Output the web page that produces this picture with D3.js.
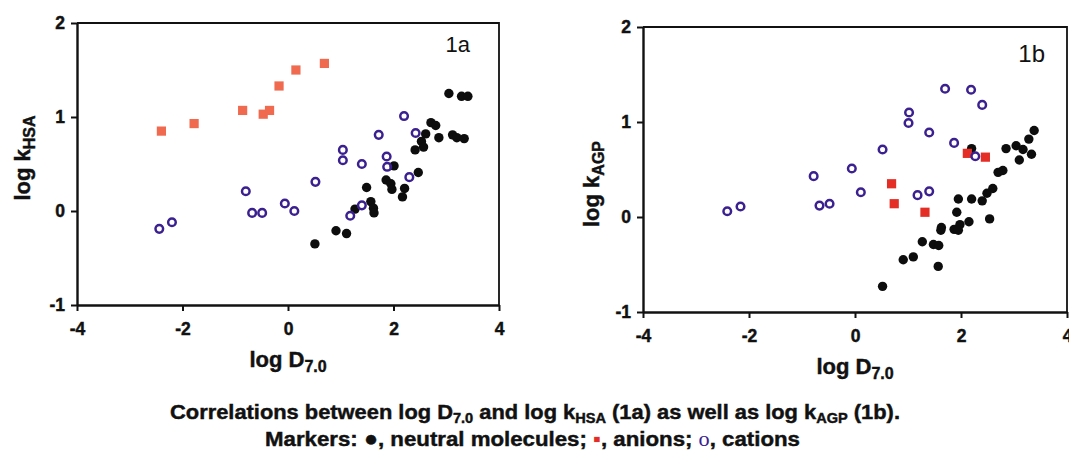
<!DOCTYPE html>
<html>
<head>
<meta charset="utf-8">
<script src="https://cdn.jsdelivr.net/npm/d3@7"></script>
<style>
  html, body { margin: 0; padding: 0; background: #fff; }
  svg { display: block; font-family: "Liberation Sans", Arial, Helvetica, sans-serif; }
</style>
</head>
<body>
<svg id="chart" width="1069" height="455"></svg>
<script>
// ---------- data ----------
const xTicks = [-4, -2, 0, 2, 4];
const yTicks = [-1, 0, 1, 2];

// Panel 1a: log D7.0 vs log kHSA
const hsaNeutral = [
  [3.05, 1.25], [3.29, 1.22], [3.41, 1.22], [2.71, 0.94], [2.80, 0.91],
  [2.61, 0.82], [2.86, 0.78], [3.12, 0.81], [3.20, 0.78], [3.34, 0.77],
  [2.53, 0.74], [2.57, 0.68], [2.41, 0.65], [2.01, 0.48], [2.47, 0.41],
  [1.86, 0.33], [1.95, 0.29], [1.97, 0.23], [2.21, 0.24], [2.17, 0.15],
  [1.49, 0.25], [1.57, 0.10], [1.62, 0.03], [1.63, -0.02], [1.27, 0.02],
  [0.91, -0.21], [1.11, -0.24], [0.51, -0.35]
];
const hsaAnion = [
  [-2.40, 0.85], [-1.78, 0.93], [-0.86, 1.07], [-0.47, 1.03],
  [-0.35, 1.07], [-0.17, 1.33], [0.15, 1.50], [0.69, 1.57]
];
const hsaCation = [
  [-2.44, -0.19], [-2.20, -0.12], [-0.80, 0.21], [-0.68, -0.02], [-0.49, -0.02],
  [-0.06, 0.08], [0.12, 0.00], [0.52, 0.31], [1.04, 0.65], [1.04, 0.54],
  [1.18, -0.05], [1.40, 0.06], [1.40, 0.50], [1.72, 0.81], [1.87, 0.58],
  [1.88, 0.47], [2.20, 1.01], [2.30, 0.36], [2.42, 0.83]
];

// Panel 1b: log D7.0 vs log kAGP
const agpNeutral = [
  [3.38, 0.91], [3.28, 0.82], [2.85, 0.72], [3.04, 0.75], [3.17, 0.71],
  [3.33, 0.66], [3.10, 0.60], [2.20, 0.72], [2.79, 0.49], [2.70, 0.47],
  [2.60, 0.30], [2.49, 0.25], [2.40, 0.17], [2.20, 0.19], [1.95, 0.19],
  [1.92, 0.05], [2.15, -0.05], [2.54, -0.02], [1.98, -0.08], [1.87, -0.13],
  [1.95, -0.14], [1.63, -0.11], [1.62, -0.14], [1.27, -0.26], [1.48, -0.29],
  [1.58, -0.30], [1.10, -0.42], [0.91, -0.45], [1.57, -0.52], [0.52, -0.73]
];
const agpAnion = [
  [0.69, 0.35], [0.74, 0.14], [1.32, 0.05], [2.12, 0.67], [2.46, 0.63]
];
const agpCation = [
  [-2.41, 0.06], [-2.16, 0.11], [-0.78, 0.43], [-0.67, 0.12], [-0.48, 0.14],
  [-0.06, 0.51], [0.11, 0.26], [0.52, 0.71], [1.01, 0.99], [1.02, 1.10],
  [1.18, 0.23], [1.40, 0.27], [1.40, 0.89], [1.70, 1.35], [1.87, 0.78],
  [2.19, 1.34], [2.27, 0.64], [2.40, 1.18]
];

// ---------- drawing ----------
const svg = d3.select("#chart");
const FONT = '"Liberation Sans", Arial, Helvetica, sans-serif';
const INK = "#111";

const panels = [
  { x0: 77, x1: 499, y0: 23, y1: 305, neutral: hsaNeutral, anion: hsaAnion, cation: hsaCation,
    anionColor: "#ef6a4f", sub: "HSA", label: "1a", labelX: 470, labelY: 52, labelSize: 22,
    yTitleX: 30, yTitleY: 158, xTitleY: 367 },
  { x0: 643, x1: 1067, y0: 27, y1: 312, neutral: agpNeutral, anion: agpAnion, cation: agpCation,
    anionColor: "#e42d24", sub: "AGP", label: "1b", labelX: 1045, labelY: 62, labelSize: 24,
    yTitleX: 599, yTitleY: 184, xTitleY: 374 }
];

function heavy(sel) {
  return sel.attr("stroke", INK).attr("stroke-width", 0.45).attr("paint-order", "stroke");
}

panels.forEach(p => {
  const x = d3.scaleLinear().domain([-4, 4]).range([p.x0, p.x1]);
  const y = d3.scaleLinear().domain([-1, 2]).range([p.y1, p.y0]);
  const g = svg.append("g");

  // frame (top and right)
  g.append("path")
    .attr("d", `M${p.x0},${p.y0}H${p.x1}V${p.y1}`)
    .attr("fill", "none").attr("stroke", INK).attr("stroke-width", 1.8);

  const xa = g.append("g").attr("transform", `translate(0,${p.y1})`)
    .call(d3.axisBottom(x).tickValues(xTicks).tickSize(6).tickSizeOuter(0).tickPadding(12)
      .tickFormat(d3.format("d")));
  const ya = g.append("g").attr("transform", `translate(${p.x0},0)`)
    .call(d3.axisLeft(y).tickValues(yTicks).tickSize(6).tickSizeOuter(0).tickPadding(6)
      .tickFormat(d3.format("d")));
  [xa, ya].forEach(a => {
    a.select(".domain").attr("stroke", INK).attr("stroke-width", 2.4);
    a.selectAll(".tick line").attr("stroke", INK).attr("stroke-width", 2);
    heavy(a.selectAll(".tick text").attr("fill", INK).style("font-family", FONT)
      .style("font-size", "17.5px").style("font-weight", "bold"));
  });
  g.selectAll(".tick text").text(d => (d < 0 ? "-" + Math.abs(d) : String(d)));

  // neutral molecules
  g.append("g").selectAll("circle").data(p.neutral).join("circle")
    .attr("cx", d => x(d[0])).attr("cy", d => y(d[1])).attr("r", 4.7)
    .attr("fill", "#0d0d0d");
  // anions
  g.append("g").selectAll("rect").data(p.anion).join("rect")
    .attr("x", d => x(d[0]) - 4.6).attr("y", d => y(d[1]) - 4.6)
    .attr("width", 9.2).attr("height", 9.2).attr("fill", p.anionColor);
  // cations
  g.append("g").selectAll("circle").data(p.cation).join("circle")
    .attr("cx", d => x(d[0])).attr("cy", d => y(d[1])).attr("r", 3.8)
    .attr("fill", "none").attr("stroke", "#3b2190").attr("stroke-width", 2.5);

  // panel label
  g.append("text").attr("x", p.labelX).attr("y", p.labelY).attr("text-anchor", "end")
    .style("font-family", FONT).style("font-size", p.labelSize + "px").attr("fill", INK)
    .text(p.label);

  // x title
  const xt = heavy(g.append("text").attr("x", (p.x0 + p.x1) / 2).attr("y", p.xTitleY)
    .attr("text-anchor", "middle").style("font-family", FONT).style("font-size", "22px")
    .style("font-weight", "bold").attr("fill", INK));
  xt.append("tspan").text("log D");
  xt.append("tspan").attr("dy", 5).style("font-size", "16px").text("7.0");

  // y title
  const yt = heavy(g.append("text")
    .attr("transform", `translate(${p.yTitleX},${p.yTitleY}) rotate(-90)`)
    .attr("text-anchor", "middle").style("font-family", FONT).style("font-size", "22px")
    .style("font-weight", "bold").attr("fill", INK));
  yt.append("tspan").text("log k");
  yt.append("tspan").attr("dy", 5).style("font-size", "16px").text(p.sub);
});

// caption
const cap1 = heavy(svg.append("text").attr("x", 170).attr("y", 419)
  .attr("textLength", 730).attr("lengthAdjust", "spacingAndGlyphs")
  .style("font-family", FONT).style("font-size", "21px").style("font-weight", "bold").attr("fill", INK));
cap1.append("tspan").text("Correlations between log D");
cap1.append("tspan").attr("dy", 4).style("font-size", "14px").text("7.0");
cap1.append("tspan").attr("dy", -4).text(" and log k");
cap1.append("tspan").attr("dy", 4).style("font-size", "14px").text("HSA");
cap1.append("tspan").attr("dy", -4).text(" (1a) as well as log k");
cap1.append("tspan").attr("dy", 4).style("font-size", "14px").text("AGP");
cap1.append("tspan").attr("dy", -4).text(" (1b).");

const cap2 = heavy(svg.append("text").attr("x", 265).attr("y", 446)
  .attr("textLength", 535).attr("lengthAdjust", "spacingAndGlyphs")
  .style("font-family", FONT).style("font-size", "21px").style("font-weight", "bold").attr("fill", INK));
cap2.append("tspan").text("Markers: ");
cap2.append("tspan").style("font-size", "22px").text("\u25CF");
cap2.append("tspan").text(", neutral molecules; ");
cap2.append("tspan").attr("fill", "#e42d24").attr("stroke", "none").text("\u25AA");
cap2.append("tspan").text(", anions; ");
cap2.append("tspan").attr("fill", "#3b2190").attr("stroke", "none").style("font-weight", "normal")
  .style("font-family", '"Liberation Serif", serif').text("o");
cap2.append("tspan").text(", cations");
</script>
</body>
</html>
